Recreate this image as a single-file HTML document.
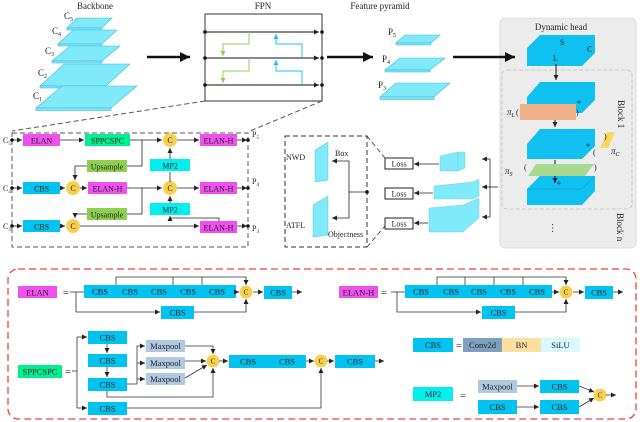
<!DOCTYPE html>
<html><head><meta charset="utf-8"><style>
html,body{margin:0;padding:0;background:#fff}
svg{display:block}
text{font-family:"Liberation Serif",serif;fill:#222}
</style></head><body>
<svg width="640" height="422" viewBox="0 0 640 422" xmlns="http://www.w3.org/2000/svg">
<defs>
<marker id="a" markerWidth="6" markerHeight="6" refX="5" refY="3" orient="auto" markerUnits="userSpaceOnUse"><path d="M0,0.5 L5,3 L0,5.5z" fill="#222"/></marker>
<marker id="ag" markerWidth="6" markerHeight="6" refX="5" refY="3" orient="auto" markerUnits="userSpaceOnUse"><path d="M0,0.5 L5,3 L0,5.5z" fill="#8fd050"/></marker>
<marker id="ab" markerWidth="6" markerHeight="6" refX="5" refY="3" orient="auto" markerUnits="userSpaceOnUse"><path d="M0,0.5 L5,3 L0,5.5z" fill="#20c0f0"/></marker>
<marker id="A" markerWidth="12" markerHeight="10" refX="10" refY="5" orient="auto" markerUnits="userSpaceOnUse"><path d="M0,0 L10,5 L0,10z" fill="#111"/></marker>
</defs>

<!-- Backbone -->
<text x="95" y="9" font-size="9" text-anchor="middle">Backbone</text>
<g fill="#80eafa" stroke="#40b8e0" stroke-width="0.6">
<polygon points="67,28 77,18 112,18 102,28"/><rect x="67" y="28" width="35" height="2"/>
<polygon points="58,44 73,30 117,30 102,44"/><rect x="58" y="44" width="44" height="2"/>
<polygon points="52,61 70,46 120,46 102,61"/><rect x="52" y="61" width="50" height="2"/>
<polygon points="40,86 64,64 130,64 106,86"/><rect x="40" y="86" width="66" height="2"/>
<polygon points="36,108 62,86 137,86 111,108"/><rect x="36" y="108" width="75" height="2.5"/>
</g>
<g font-size="9"><text x="64" y="19">C<tspan font-size="6" dy="2">5</tspan></text>
<text x="52" y="34">C<tspan font-size="6" dy="2">4</tspan></text>
<text x="45" y="54">C<tspan font-size="6" dy="2">3</tspan></text>
<text x="38" y="76">C<tspan font-size="6" dy="2">2</tspan></text>
<text x="33" y="99">C<tspan font-size="6" dy="2">1</tspan></text></g>
<line x1="147" y1="57" x2="190" y2="57" stroke="#111" stroke-width="2.5" marker-end="url(#A)"/>

<!-- FPN -->
<text x="263" y="9" font-size="9" text-anchor="middle">FPN</text>
<rect x="205" y="14" width="117" height="87" fill="none" stroke="#333" stroke-width="1"/>
<g stroke="#111" stroke-width="1">
<line x1="205" y1="32" x2="319" y2="32" marker-end="url(#a)"/>
<line x1="205" y1="58" x2="319" y2="58" marker-end="url(#a)"/>
<line x1="205" y1="85" x2="319" y2="85" marker-end="url(#a)"/>
</g>
<g fill="#111"><circle cx="205" cy="32" r="1.8"/><circle cx="205" cy="58" r="1.8"/><circle cx="205" cy="85" r="1.8"/><circle cx="322" cy="32" r="1.8"/><circle cx="322" cy="58" r="1.8"/><circle cx="322" cy="85" r="1.8"/></g>
<g fill="none" stroke-width="1">
<polyline points="249,32 249,44 223,44 223,56" stroke="#8fd050" marker-end="url(#ag)"/>
<polyline points="249,58 249,71 223,71 223,83" stroke="#8fd050" marker-end="url(#ag)"/>
<polyline points="302,57 302,44 276,44 276,34" stroke="#20c0f0" marker-end="url(#ab)"/>
<polyline points="302,84 302,71 276,71 276,60" stroke="#20c0f0" marker-end="url(#ab)"/>
</g>
<line x1="327" y1="57" x2="373" y2="57" stroke="#111" stroke-width="2.5" marker-end="url(#A)"/>
<g stroke="#555" stroke-dasharray="5,3" stroke-width="1"><line x1="205" y1="101" x2="12" y2="131"/><line x1="322" y1="101" x2="250" y2="131"/></g>

<!-- Feature pyramid -->
<text x="380" y="9" font-size="9" text-anchor="middle">Feature pyramid</text>
<g fill="#80eafa" stroke="#40b8e0" stroke-width="0.6">
<polygon points="396,43 405,35 440,35 431,43"/><rect x="396" y="43" width="35" height="2"/>
<polygon points="385,70 400,58 445,58 430,70"/><rect x="385" y="70" width="45" height="2"/>
<polygon points="380,97 396,83 450,83 434,97"/><rect x="380" y="97" width="54" height="2.5"/>
</g>
<g font-size="9"><text x="388" y="35">P<tspan font-size="6" dy="2">5</tspan></text>
<text x="382" y="62">P<tspan font-size="6" dy="2">4</tspan></text>
<text x="378" y="88">P<tspan font-size="6" dy="2">3</tspan></text></g>

<!-- Dynamic head -->
<rect x="500" y="18" width="136" height="230" rx="5" fill="#ececec" stroke="#ccc" stroke-width="0.6"/>
<line x1="453" y1="57" x2="515" y2="57" stroke="#111" stroke-width="2.5" marker-end="url(#A)"/>
<text x="561" y="30" font-size="9" text-anchor="middle">Dynamic head</text>
<rect x="502" y="70" width="130" height="139" rx="5" fill="none" stroke="#bbb" stroke-width="0.8" stroke-dasharray="4,2"/>
<g fill="#10c0f0">
<polygon points="527,48 540,35 595,35 595,53 582,66 527,66"/>
<polygon points="527,97 540,82 595,82 595,100 582,113 527,113"/>
<polygon points="527,144 540,129 595,129 595,146 582,159 527,159"/>
<polygon points="527,189 540,176 595,176 595,191 582,205 527,205"/>
</g>
<g stroke="#0a90c0" stroke-width="0.5" fill="none"><line x1="527" y1="189" x2="582" y2="189"/><line x1="582" y1="189" x2="595" y2="176"/></g>
<text x="560" y="45" font-size="8">S</text><text x="587" y="52" font-size="8">C</text><text x="553" y="61" font-size="8">L</text>
<g stroke="#111" stroke-width="1"><line x1="556" y1="64" x2="556" y2="80" marker-end="url(#a)"/><line x1="555" y1="115" x2="555" y2="127" marker-end="url(#a)"/><line x1="555" y1="160" x2="555" y2="183" marker-end="url(#a)"/></g>
<rect x="520" y="104" width="56" height="16" fill="#f0b088"/>
<polygon points="528,176 536,164 594,164 585,176" fill="#a8d890"/>
<polygon points="600,148 607,132 615,132 608,148" fill="#f8d860"/>
<g font-size="9" font-style="italic"><text x="507" y="115">π<tspan font-size="6" dy="2">L</tspan></text><text x="611" y="154">π<tspan font-size="6" dy="2">C</tspan></text><text x="505" y="174">π<tspan font-size="6" dy="2">S</tspan></text></g>
<g font-size="8"><text x="516" y="115">(</text><text x="576" y="115">)</text><text x="604" y="139">)</text><text x="593" y="155">(</text><text x="524" y="170">(</text><text x="594" y="170">)</text><text x="577" y="106">*</text><text x="586" y="149">*</text><text x="557" y="187">*</text></g>
<text font-size="9" transform="translate(618,100) rotate(90)">Block 1</text>
<text font-size="9" transform="translate(617,213) rotate(90)">Block n</text>
<text x="556" y="232" font-size="10" text-anchor="middle" transform="rotate(90 556 228)">…</text>

<!-- Neck -->
<rect x="12" y="133" width="236" height="114" fill="none" stroke="#555" stroke-dasharray="5,3" stroke-width="1"/>
<g font-size="8" text-anchor="middle">
<rect x="23" y="134" width="37" height="12" fill="#f050f0"/><text x="41.5" y="143.5">ELAN</text>
<rect x="85" y="134" width="45" height="12" fill="#00f090"/><text x="107.5" y="143.5">SPPCSPC</text>
<rect x="200" y="134" width="37" height="12" fill="#f050f0"/><text x="218.5" y="143.5">ELAN-H</text>
<rect x="87" y="160" width="40" height="12" fill="#8fcf4f"/><text x="107" y="169.5">Upsample</text>
<rect x="150" y="159" width="40" height="12" fill="#00f0f0"/><text x="170" y="168.5">MP2</text>
<rect x="23" y="182" width="37" height="12" fill="#00c3ef"/><text x="41.5" y="191.5">CBS</text>
<rect x="88" y="182" width="39" height="12" fill="#f050f0"/><text x="107.5" y="191.5">ELAN-H</text>
<rect x="200" y="182" width="37" height="12" fill="#f050f0"/><text x="218.5" y="191.5">ELAN-H</text>
<rect x="87" y="208" width="40" height="12" fill="#8fcf4f"/><text x="107" y="217.5">Upsample</text>
<rect x="150" y="203" width="40" height="12" fill="#00f0f0"/><text x="170" y="212.5">MP2</text>
<rect x="23" y="220" width="37" height="12" fill="#00c3ef"/><text x="41.5" y="229.5">CBS</text>
<rect x="200" y="221" width="37" height="12" fill="#f050f0"/><text x="218.5" y="230.5">ELAN-H</text>
</g>
<g fill="#f8d050"><circle cx="170" cy="140" r="7"/><circle cx="73" cy="188" r="7"/><circle cx="170" cy="188" r="7"/><circle cx="73" cy="226" r="7"/></g>
<g font-size="8" text-anchor="middle"><text x="170" y="143">C</text><text x="73" y="191">C</text><text x="170" y="191">C</text><text x="73" y="229">C</text></g>
<g stroke="#222" stroke-width="0.8" fill="none">
<line x1="12" y1="140" x2="22" y2="140" marker-end="url(#a)"/>
<line x1="60" y1="140" x2="84" y2="140" marker-end="url(#a)"/>
<line x1="130" y1="140" x2="162" y2="140" marker-end="url(#a)"/>
<line x1="177" y1="140" x2="199" y2="140" marker-end="url(#a)"/>
<line x1="237" y1="140" x2="247" y2="140" marker-end="url(#a)"/>
<polyline points="142,140 142,166 127,166"/>
<polyline points="87,166 75,166 75,180" marker-end="url(#a)"/>
<line x1="170" y1="159" x2="170" y2="148" marker-end="url(#a)"/>
<line x1="12" y1="188" x2="22" y2="188" marker-end="url(#a)"/>
<line x1="60" y1="188" x2="65" y2="188" marker-end="url(#a)"/>
<line x1="80" y1="188" x2="87" y2="188" marker-end="url(#a)"/>
<line x1="127" y1="188" x2="162" y2="188" marker-end="url(#a)"/>
<line x1="177" y1="188" x2="199" y2="188" marker-end="url(#a)"/>
<line x1="237" y1="188" x2="247" y2="188" marker-end="url(#a)"/>
<line x1="170" y1="182" x2="170" y2="172"/>
<polyline points="142,188 142,214 127,214"/>
<polyline points="87,214 75,214 75,218" marker-end="url(#a)"/>
<line x1="170" y1="203" x2="170" y2="196" marker-end="url(#a)"/>
<line x1="12" y1="226" x2="22" y2="226" marker-end="url(#a)"/>
<line x1="60" y1="226" x2="65" y2="226" marker-end="url(#a)"/>
<line x1="80" y1="226" x2="199" y2="226" marker-end="url(#a)"/>
<line x1="237" y1="226" x2="247" y2="226" marker-end="url(#a)"/>
<polyline points="219,221 219,218 170,218 170,216" marker-end="url(#a)"/>
</g>
<g fill="#111"><circle cx="12" cy="140" r="1.8"/><circle cx="12" cy="188" r="1.8"/><circle cx="12" cy="226" r="1.8"/><circle cx="248" cy="140" r="1.8"/><circle cx="248" cy="188" r="1.8"/><circle cx="248" cy="226" r="1.8"/></g>
<g font-size="8"><text x="3" y="143">C<tspan font-size="5" dy="2">5</tspan></text><text x="3" y="191">C<tspan font-size="5" dy="2">4</tspan></text><text x="3" y="229">C<tspan font-size="5" dy="2">3</tspan></text>
<text x="252" y="137">P<tspan font-size="5" dy="2">5</tspan></text><text x="252" y="184">P<tspan font-size="5" dy="2">4</tspan></text><text x="252" y="231">P<tspan font-size="5" dy="2">3</tspan></text></g>

<!-- Head detail -->
<rect x="285" y="136" width="82" height="111" fill="none" stroke="#333" stroke-dasharray="5,3" stroke-width="1"/>
<g stroke="#333" stroke-dasharray="5,3" stroke-width="0.8"><line x1="367" y1="136" x2="385" y2="158"/><line x1="367" y1="247" x2="385" y2="226"/></g>
<g fill="#80eafa" stroke="#40b8e0" stroke-width="0.4">
<polygon points="315,150 328,142 328,180 315,182"/><polygon points="313,205 328,196 328,235 313,237"/>
</g>
<g font-size="8"><text x="286" y="160">NWD</text><text x="286" y="228">ATFL</text><text x="335" y="156">Box</text><text x="328" y="237">Objectness</text></g>
<g stroke="#222" stroke-width="0.8" fill="none">
<polyline points="367,192 349,192 349,161 332,161" marker-end="url(#a)"/>
<polyline points="349,192 349,218 332,218" marker-end="url(#a)"/>
</g>
<circle cx="367" cy="192" r="1.8" fill="#111"/>
<g font-size="8" text-anchor="middle">
<rect x="385" y="158" width="28" height="11" fill="#fff" stroke="#222"/><text x="399" y="166.5">Loss</text>
<rect x="385" y="188" width="28" height="11" fill="#fff" stroke="#222"/><text x="399" y="196.5">Loss</text>
<rect x="385" y="218" width="28" height="11" fill="#fff" stroke="#222"/><text x="399" y="226.5">Loss</text>
</g>
<g fill="#80eafa" stroke="#60c8e8" stroke-width="0.4">
<polygon points="440,156 458,152 458,171 440,171"/><polygon points="458,152 465,152 465,168 458,171"/>
<polygon points="434,186 473,182 479,179 479,196 473,199 434,199"/>
<polygon points="429,208 463,205 479,198 479,218 463,232 429,232"/>
</g>
<g stroke="#222" stroke-width="0.8" fill="none">
<line x1="439" y1="164" x2="414" y2="164" marker-end="url(#a)"/>
<line x1="433" y1="193" x2="414" y2="193" marker-end="url(#a)"/>
<line x1="428" y1="223" x2="414" y2="223" marker-end="url(#a)"/>
<polyline points="498,187 490,187"/>
<polyline points="490,159 490,217"/>
<line x1="490" y1="159" x2="482" y2="159" marker-end="url(#a)"/>
<line x1="490" y1="187" x2="482" y2="187" marker-end="url(#a)"/>
<line x1="490" y1="217" x2="482" y2="217" marker-end="url(#a)"/>
</g>

<!-- Bottom legend -->
<rect x="8" y="269" width="628" height="150" rx="10" fill="none" stroke="#f04040" stroke-width="1.3" stroke-dasharray="7,4"/>
<g font-size="8.5" text-anchor="middle">
<rect x="18" y="286" width="39" height="12" fill="#f050f0"/><text x="37.5" y="295.5">ELAN</text>
<text x="66" y="296" font-size="11">=</text>
<rect x="84" y="285" width="152" height="13" fill="#00c3ef"/>
<text x="100" y="294.5">CBS</text><text x="130" y="294.5">CBS</text><text x="159" y="294.5">CBS</text><text x="188" y="294.5">CBS</text><text x="217" y="294.5">CBS</text>
<rect x="161" y="306" width="33" height="13" fill="#00c3ef"/><text x="177.5" y="315.5">CBS</text>
<rect x="264" y="286" width="28" height="13" fill="#00c3ef"/><text x="278" y="295.5">CBS</text>
<rect x="339" y="286" width="39" height="12" fill="#f050f0"/><text x="358.5" y="295.5">ELAN-H</text>
<text x="384" y="296" font-size="11">=</text>
<rect x="405" y="285" width="147" height="13" fill="#00c3ef"/>
<text x="421" y="294.5">CBS</text><text x="451" y="294.5">CBS</text><text x="479" y="294.5">CBS</text><text x="508" y="294.5">CBS</text><text x="537" y="294.5">CBS</text>
<rect x="482" y="306" width="33" height="13" fill="#00c3ef"/><text x="498.5" y="315.5">CBS</text>
<rect x="585" y="286" width="28" height="13" fill="#00c3ef"/><text x="599" y="295.5">CBS</text>
<rect x="18" y="365" width="44" height="13" fill="#00f090"/><text x="40" y="374.5">SPPCSPC</text>
<text x="68" y="375" font-size="11">=</text>
<rect x="88" y="331" width="39" height="13" fill="#00c3ef"/><text x="107.5" y="340.5">CBS</text>
<rect x="88" y="354" width="39" height="13" fill="#00c3ef"/><text x="107.5" y="363.5">CBS</text>
<rect x="88" y="378" width="39" height="13" fill="#00c3ef"/><text x="107.5" y="387.5">CBS</text>
<rect x="88" y="402" width="39" height="13" fill="#00c3ef"/><text x="107.5" y="411.5">CBS</text>
<rect x="146" y="340" width="39" height="12" fill="#b0c8e0"/><text x="165.5" y="349">Maxpool</text>
<rect x="146" y="357" width="39" height="12" fill="#b0c8e0"/><text x="165.5" y="366">Maxpool</text>
<rect x="146" y="373" width="39" height="12" fill="#b0c8e0"/><text x="165.5" y="382">Maxpool</text>
<rect x="229" y="355" width="77" height="13" fill="#00c3ef"/><text x="248" y="364.5">CBS</text><text x="287" y="364.5">CBS</text>
<rect x="335" y="355" width="40" height="13" fill="#00c3ef"/><text x="355" y="364.5">CBS</text>
<rect x="413" y="338" width="40" height="14" fill="#00c3ef"/><text x="433" y="348">CBS</text>
<text x="459" y="349" font-size="11">=</text>
<rect x="463" y="338" width="39" height="14" fill="#7f9fbf"/><text x="482.5" y="348">Conv2d</text>
<rect x="502" y="338" width="39" height="14" fill="#fde0a0"/><text x="521.5" y="348">BN</text>
<rect x="541" y="338" width="39" height="14" fill="#d8f8fc"/><text x="560.5" y="348">SiLU</text>
<rect x="413" y="387" width="40" height="14" fill="#00f0f0"/><text x="433" y="397">MP2</text>
<text x="463" y="399" font-size="11">=</text>
<rect x="478" y="380" width="39" height="13" fill="#b0c8e0"/><text x="497.5" y="389.5">Maxpool</text>
<rect x="540" y="380" width="39" height="13" fill="#00c3ef"/><text x="559.5" y="389.5">CBS</text>
<rect x="478" y="400" width="39" height="14" fill="#00c3ef"/><text x="497.5" y="410">CBS</text>
<rect x="540" y="400" width="39" height="14" fill="#00c3ef"/><text x="559.5" y="410">CBS</text>
</g>
<g fill="#f8d050"><circle cx="246" cy="292" r="6.5"/><circle cx="566" cy="292" r="6.5"/><circle cx="213" cy="361" r="6.5"/><circle cx="321" cy="361" r="6.5"/><circle cx="600" cy="395" r="6.5"/></g>
<g font-size="7" text-anchor="middle"><text x="246" y="294.5">C</text><text x="566" y="294.5">C</text><text x="213" y="363.5">C</text><text x="321" y="363.5">C</text><text x="600" y="397.5">C</text></g>
<g stroke="#333" stroke-width="0.8" fill="none">
<polyline points="70,292 84,292"/>
<polyline points="116,285 116,277 246,277 246,285" marker-end="url(#a)"/>
<line x1="173" y1="285" x2="173" y2="277"/><line x1="202" y1="285" x2="202" y2="277"/>
<line x1="236" y1="292" x2="239" y2="292" marker-end="url(#a)"/>
<line x1="253" y1="292" x2="263" y2="292" marker-end="url(#a)"/>
<line x1="292" y1="292" x2="302" y2="292" marker-end="url(#a)"/>
<polyline points="76,292 76,312 160,312" marker-end="url(#a)"/>
<polyline points="194,312 246,312 246,299" marker-end="url(#a)"/>
<polyline points="391,292 405,292"/>
<polyline points="437,285 437,277 566,277 566,285" marker-end="url(#a)"/>
<line x1="465" y1="285" x2="465" y2="277"/><line x1="494" y1="285" x2="494" y2="277"/><line x1="523" y1="285" x2="523" y2="277"/>
<line x1="552" y1="292" x2="559" y2="292" marker-end="url(#a)"/>
<line x1="573" y1="292" x2="584" y2="292" marker-end="url(#a)"/>
<line x1="613" y1="292" x2="623" y2="292" marker-end="url(#a)"/>
<polyline points="397,292 397,312 481,312" marker-end="url(#a)"/>
<polyline points="515,312 566,312 566,299" marker-end="url(#a)"/>
<polyline points="72,371 77,371"/>
<line x1="77" y1="337" x2="77" y2="408"/>
<line x1="77" y1="337" x2="87" y2="337" marker-end="url(#a)"/>
<line x1="77" y1="408" x2="87" y2="408" marker-end="url(#a)"/>
<line x1="107" y1="344" x2="107" y2="353" marker-end="url(#a)"/>
<line x1="107" y1="367" x2="107" y2="377" marker-end="url(#a)"/>
<polyline points="127,384 137,384 137,346 145,346" marker-end="url(#a)"/>
<line x1="137" y1="363" x2="145" y2="363" marker-end="url(#a)"/>
<line x1="137" y1="379" x2="145" y2="379" marker-end="url(#a)"/>
<polyline points="185,346 213,346 213,354" marker-end="url(#a)"/>
<line x1="185" y1="361" x2="206" y2="361" marker-end="url(#a)"/>
<line x1="185" y1="378" x2="207" y2="365" marker-end="url(#a)"/>
<polyline points="107,391 107,397 213,397 213,368" marker-end="url(#a)"/>
<line x1="219" y1="361" x2="228" y2="361" marker-end="url(#a)"/>
<line x1="306" y1="361" x2="314" y2="361" marker-end="url(#a)"/>
<line x1="327" y1="361" x2="334" y2="361" marker-end="url(#a)"/>
<line x1="375" y1="361" x2="384" y2="361" marker-end="url(#a)"/>
<polyline points="127,408 321,408 321,368" marker-end="url(#a)"/>
<line x1="517" y1="386" x2="539" y2="386" marker-end="url(#a)"/>
<line x1="517" y1="407" x2="539" y2="407" marker-end="url(#a)"/>
<line x1="579" y1="386" x2="594" y2="392" marker-end="url(#a)"/>
<line x1="579" y1="407" x2="594" y2="398" marker-end="url(#a)"/>
<line x1="606" y1="395" x2="616" y2="395" marker-end="url(#a)"/>
</g>
</svg>
</body></html>
